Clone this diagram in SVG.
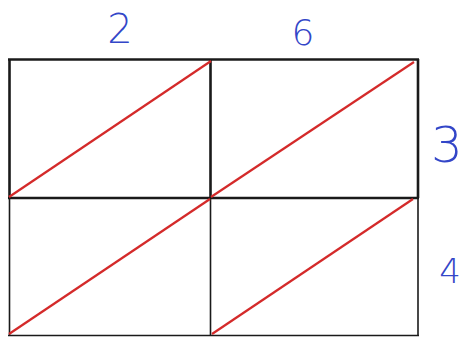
<svg xmlns="http://www.w3.org/2000/svg" width="467" height="338" viewBox="0 0 467 338">
<style>
.g{stroke:#1a1a1a;fill:none}
.thick{stroke-width:2.6}
.thin{stroke-width:1.6}
.d{stroke:#d42a2a;stroke-width:2.2}
.t{font-family:"DejaVu Sans","Liberation Sans",sans-serif;font-weight:200;fill:#3346c8;text-anchor:middle}
</style>
<rect width="467" height="338" fill="#ffffff"/>
<g id="grid">
<line class="g thick" x1="8" y1="59.5" x2="419" y2="59.5"/>
<line class="g thick" x1="8" y1="198" x2="419" y2="198"/>
<line class="g thick" x1="9.5" y1="59" x2="9.5" y2="198"/>
<line class="g thick" x1="210.5" y1="59" x2="210.5" y2="198"/>
<line class="g thick" x1="418" y1="59" x2="418" y2="198"/>
<line class="g thin" x1="9.5" y1="198" x2="9.5" y2="336"/>
<line class="g thin" x1="210.5" y1="198" x2="210.5" y2="336"/>
<line class="g thin" x1="418" y1="198" x2="418" y2="336"/>
<line class="g thin" x1="8" y1="335.5" x2="419" y2="335.5"/>
</g>
<g id="connectors">
<line class="d" x1="9" y1="197" x2="211" y2="61"/>
<line class="d" x1="211" y1="197" x2="414" y2="62"/>
<line class="d" x1="9" y1="334" x2="210" y2="199"/>
<line class="d" x1="212" y1="334" x2="413" y2="199"/>
</g>
<g id="labels">
<text class="t" x="120" y="43" font-size="40">2</text>
<text class="t" x="303" y="45" font-size="36">6</text>
<text class="t" x="447" y="162" font-size="50">3</text>
<text class="t" x="450" y="283" font-size="34">4</text>
</g>
</svg>
